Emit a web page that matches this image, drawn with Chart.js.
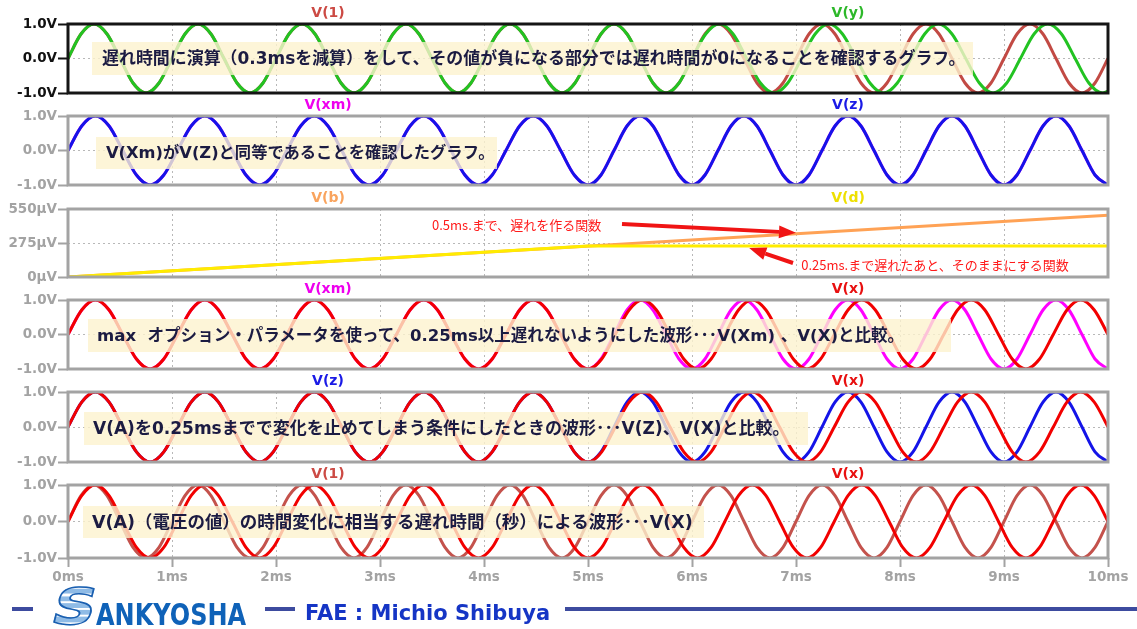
<!DOCTYPE html>
<html>
<head>
<meta charset="utf-8">
<script src="https://cdn.jsdelivr.net/npm/chart.js@4"></script>
<style>
  html, body { margin: 0; padding: 0; background: #fff; }
  #wrap { position: relative; width: 1137px; height: 629px; overflow: hidden; background: #fff; }
  #wrap canvas { position: absolute; left: 0; top: 0; }
  .note {
    position: absolute; box-sizing: border-box; padding-left: 10px;
    background: rgba(252, 242, 206, 0.8); color: #1b1b42;
    font-family: "DejaVu Sans", "Noto Sans CJK JP", sans-serif; font-weight: bold;
    font-size: 17px; white-space: pre; z-index: 5;
  }
  .bar { position: absolute; height: 4px; background: #3d4b9f; z-index: 5; }
  .bigS {
    position: absolute; left: 47px; top: 582px; font: bold 50px/50px "DejaVu Sans", sans-serif;
    background: repeating-linear-gradient(180deg, #8fbbe6 0px, #8fbbe6 5px, #ffffff 5px, #ffffff 7px);
    -webkit-background-clip: text; background-clip: text; color: transparent;
    -webkit-text-stroke: 1.5px #1a5fb0; z-index: 5;
    transform: skewX(-14deg) scaleX(1.2); transform-origin: left bottom;
  }
  .ank {
    position: absolute; left: 96px; top: 600px; font: bold 30px/30px "DejaVu Sans", sans-serif;
    color: #0f62b8; transform: scaleX(0.8); transform-origin: left top; z-index: 5;
  }
  .fae {
    position: absolute; left: 305px; top: 603px; font: bold 21px/21px "DejaVu Sans", sans-serif;
    color: #1535c5; z-index: 5; white-space: nowrap;
  }
</style>
</head>
<body>
<div id="wrap">
  <div class="note" data-w="864" style="left:92px;top:42px;width:881px;height:33px;line-height:33px;"><span>遅れ時間に演算（0.3msを減算）をして、その値が負になる部分では遅れ時間が0になることを確認するグラフ。</span></div>
  <div class="note" data-w="389" style="left:96px;top:137px;width:401px;height:32px;line-height:32px;"><span>V(Xm)がV(Z)と同等であることを確認したグラフ。</span></div>
  <div class="note" data-w="808" style="left:88px;top:319px;width:863px;height:33px;line-height:33px;padding-left:9px;"><span>max  オプション・パラメータを使って、0.25ms以上遅れないようにした波形･･･V(Xm) 、V(X)と比較。</span></div>
  <div class="note" data-w="697" style="left:84px;top:412px;width:724px;height:33px;line-height:33px;padding-left:9px;"><span>V(A)を0.25msまでで変化を止めてしまう条件にしたときの波形･･･V(Z)、V(X)と比較。</span></div>
  <div class="note" data-w="601" style="left:83px;top:506px;width:621px;height:32px;line-height:32px;padding-left:9px;"><span>V(A)（電圧の値）の時間変化に相当する遅れ時間（秒）による波形･･･V(X)</span></div>

  <div class="bar" style="left:12px;top:607px;width:21px;"></div>
  <span class="bigS">S</span>
  <span class="ank">ANKYOSHA</span>
  <div class="bar" style="left:265px;top:607px;width:30px;"></div>
  <span class="fae">FAE : Michio Shibuya</span>
  <div class="bar" style="left:565px;top:607px;width:572px;"></div>
</div>
<script>
// ---- waveform samples (time in ms, value in V unless noted) ----

// V(1): source sine
const v1Time = [
  0, 0.125, 0.25, 0.375, 0.5, 0.625, 0.75, 0.875,
  1, 1.125, 1.25, 1.375, 1.5, 1.625, 1.75, 1.875,
  2, 2.125, 2.25, 2.375, 2.5, 2.625, 2.75, 2.875,
  3, 3.125, 3.25, 3.375, 3.5, 3.625, 3.75, 3.875,
  4, 4.125, 4.25, 4.375, 4.5, 4.625, 4.75, 4.875,
  5, 5.125, 5.25, 5.375, 5.5, 5.625, 5.75, 5.875,
  6, 6.125, 6.25, 6.375, 6.5, 6.625, 6.75, 6.875,
  7, 7.125, 7.25, 7.375, 7.5, 7.625, 7.75, 7.875,
  8, 8.125, 8.25, 8.375, 8.5, 8.625, 8.75, 8.875,
  9, 9.125, 9.25, 9.375, 9.5, 9.625, 9.75, 9.875,
  10
];
const v1Val = [
  0, 0.71, 1, 0.71, 0, -0.71, -1, -0.71,
  0, 0.71, 1, 0.71, 0, -0.71, -1, -0.71,
  0, 0.71, 1, 0.71, 0, -0.71, -1, -0.71,
  0, 0.71, 1, 0.71, 0, -0.71, -1, -0.71,
  0, 0.71, 1, 0.71, 0, -0.71, -1, -0.71,
  0, 0.71, 1, 0.71, 0, -0.71, -1, -0.71,
  0, 0.71, 1, 0.71, 0, -0.71, -1, -0.71,
  0, 0.71, 1, 0.71, 0, -0.71, -1, -0.71,
  0, 0.71, 1, 0.71, 0, -0.71, -1, -0.71,
  0, 0.71, 1, 0.71, 0, -0.71, -1, -0.71,
  0
];

// V(x): delay keeps growing up to 0.5ms at 10ms
const vxTime = [
  0, 0.132, 0.263, 0.395, 0.526, 0.658, 0.789, 0.921,
  1.053, 1.184, 1.316, 1.447, 1.579, 1.711, 1.842, 1.974,
  2.105, 2.237, 2.368, 2.5, 2.632, 2.763, 2.895, 3.026,
  3.158, 3.289, 3.421, 3.553, 3.684, 3.816, 3.947, 4.079,
  4.211, 4.342, 4.474, 4.605, 4.737, 4.868, 5.0, 5.132,
  5.263, 5.395, 5.526, 5.658, 5.789, 5.921, 6.053, 6.184,
  6.316, 6.447, 6.579, 6.711, 6.842, 6.974, 7.105, 7.237,
  7.368, 7.5, 7.632, 7.763, 7.895, 8.026, 8.158, 8.289,
  8.421, 8.553, 8.684, 8.816, 8.947, 9.079, 9.211, 9.342,
  9.474, 9.605, 9.737, 9.868, 10
];
const vxVal = [
  0, 0.71, 1, 0.71, 0, -0.71, -1, -0.71,
  0, 0.71, 1, 0.71, 0, -0.71, -1, -0.71,
  0, 0.71, 1, 0.71, 0, -0.71, -1, -0.71,
  0, 0.71, 1, 0.71, 0, -0.71, -1, -0.71,
  0, 0.71, 1, 0.71, 0, -0.71, -1, -0.71,
  0, 0.71, 1, 0.71, 0, -0.71, -1, -0.71,
  0, 0.71, 1, 0.71, 0, -0.71, -1, -0.71,
  0, 0.71, 1, 0.71, 0, -0.71, -1, -0.71,
  0, 0.71, 1, 0.71, 0, -0.71, -1, -0.71,
  0, 0.71, 1, 0.71, 0
];

// V(xm) / V(z): delay stops growing at 0.25ms (5ms)
const vxmTime = [
  0, 0.132, 0.263, 0.395, 0.526, 0.658, 0.789, 0.921,
  1.053, 1.184, 1.316, 1.447, 1.579, 1.711, 1.842, 1.974,
  2.105, 2.237, 2.368, 2.5, 2.632, 2.763, 2.895, 3.026,
  3.158, 3.289, 3.421, 3.553, 3.684, 3.816, 3.947, 4.079,
  4.211, 4.342, 4.474, 4.605, 4.737, 4.868, 5.0, 5.125,
  5.25, 5.375, 5.5, 5.625, 5.75, 5.875, 6.0, 6.125,
  6.25, 6.375, 6.5, 6.625, 6.75, 6.875, 7.0, 7.125,
  7.25, 7.375, 7.5, 7.625, 7.75, 7.875, 8.0, 8.125,
  8.25, 8.375, 8.5, 8.625, 8.75, 8.875, 9.0, 9.125,
  9.25, 9.375, 9.5, 9.625, 9.75, 9.875, 10
];
const vxmVal = [
  0, 0.71, 1, 0.71, 0, -0.71, -1, -0.71,
  0, 0.71, 1, 0.71, 0, -0.71, -1, -0.71,
  0, 0.71, 1, 0.71, 0, -0.71, -1, -0.71,
  0, 0.71, 1, 0.71, 0, -0.71, -1, -0.71,
  0, 0.71, 1, 0.71, 0, -0.71, -1, -0.71,
  0, 0.71, 1, 0.71, 0, -0.71, -1, -0.71,
  0, 0.71, 1, 0.71, 0, -0.71, -1, -0.71,
  0, 0.71, 1, 0.71, 0, -0.71, -1, -0.71,
  0, 0.71, 1, 0.71, 0, -0.71, -1, -0.71,
  0, 0.71, 1, 0.71, 0, -0.71, -1
];
const vzTime = vxmTime;
const vzVal = vxmVal;

// V(y): delay minus 0.3ms, clamped at zero (follows V(1) until 6ms)
const vyTime = [
  0, 0.125, 0.25, 0.375, 0.5, 0.625, 0.75, 0.875,
  1, 1.125, 1.25, 1.375, 1.5, 1.625, 1.75, 1.875,
  2, 2.125, 2.25, 2.375, 2.5, 2.625, 2.75, 2.875,
  3, 3.125, 3.25, 3.375, 3.5, 3.625, 3.75, 3.875,
  4, 4.125, 4.25, 4.375, 4.5, 4.625, 4.75, 4.875,
  5, 5.125, 5.25, 5.375, 5.5, 5.625, 5.75, 5.875,
  6, 6.132, 6.263, 6.395, 6.526, 6.658, 6.789, 6.921,
  7.053, 7.184, 7.316, 7.447, 7.579, 7.711, 7.842, 7.974,
  8.105, 8.237, 8.368, 8.5, 8.632, 8.763, 8.895, 9.026,
  9.158, 9.289, 9.421, 9.553, 9.684, 9.816, 9.947, 10
];
const vyVal = [
  0, 0.71, 1, 0.71, 0, -0.71, -1, -0.71,
  0, 0.71, 1, 0.71, 0, -0.71, -1, -0.71,
  0, 0.71, 1, 0.71, 0, -0.71, -1, -0.71,
  0, 0.71, 1, 0.71, 0, -0.71, -1, -0.71,
  0, 0.71, 1, 0.71, 0, -0.71, -1, -0.71,
  0, 0.71, 1, 0.71, 0, -0.71, -1, -0.71,
  0, 0.71, 1, 0.71, 0, -0.71, -1, -0.71,
  0, 0.71, 1, 0.71, 0, -0.71, -1, -0.71,
  0, 0.71, 1, 0.71, 0, -0.71, -1, -0.71,
  0, 0.71, 1, 0.71, 0, -0.71, -1, -0.95
];

// V(b) and V(d): delay control voltages (µV)
const vbTime = [0, 10];
const vbVal = [0, 500];
const vdTime = [0, 5, 10];
const vdVal = [0, 250, 250];

// axis ticks
const timeTicks = [0, 1, 2, 3, 4, 5, 6, 7, 8, 9, 10];
const voltTicks = [-1, 0, 1];
const microTicks = [0, 275, 550];

// ---- layout / drawing ----
const W = 1137, H = 629, PLOT_RIGHT = 1108, AXIS_W = 68;
const GREY = '#a3a3a3';
const GRID = '#b8b8b8';
const TICK_FONT = { family: 'DejaVu Sans', weight: 'bold', size: 13.5 };
const wrap = document.getElementById('wrap');

function arrow(ctx, x0, y0, x1, y1) {
  const ang = Math.atan2(y1 - y0, x1 - x0);
  const len = 17, half = 6.5;
  const bx = x1 - len * Math.cos(ang), by = y1 - len * Math.sin(ang);
  ctx.strokeStyle = '#f01414'; ctx.fillStyle = '#f01414'; ctx.lineWidth = 4;
  ctx.beginPath(); ctx.moveTo(x0, y0); ctx.lineTo(bx, by); ctx.stroke();
  ctx.beginPath();
  ctx.moveTo(x1, y1);
  ctx.lineTo(bx + half * Math.sin(ang), by - half * Math.cos(ang));
  ctx.lineTo(bx - half * Math.sin(ang), by + half * Math.cos(ang));
  ctx.closePath(); ctx.fill();
}

const panes = [
  { top: 24, bottom: 93, ink: '#111111', frame: '#151515', ticks: voltTicks, unit: 'V',
    traces: [ { t: vyTime, v: vyVal, color: '#22c322' }, { t: v1Time, v: v1Val, color: '#c24a44' } ],
    labels: [ ['V(1)', '#cc4a44'], ['V(y)', '#2db82a'] ] },
  { top: 116, bottom: 185, ink: GREY, frame: GREY, ticks: voltTicks, unit: 'V',
    traces: [ { t: vzTime, v: vzVal, color: '#1414e8' }, { t: vxmTime, v: vxmVal, color: '#ff00ff' } ],
    labels: [ ['V(xm)', '#ee00ee'], ['V(z)', '#1a1ae6'] ] },
  { top: 209, bottom: 277, ink: GREY, frame: GREY, ticks: microTicks, unit: 'µV',
    traces: [ { t: vdTime, v: vdVal, color: '#ffec00', straight: true },
              { t: vbTime, v: vbVal, color: '#ffa255', straight: true } ],
    labels: [ ['V(b)', '#f9a45e'], ['V(d)', '#eee000'] ],
    extra(chart) {
      const { ctx, scales: { x, y } } = chart;
      ctx.save();
      ctx.fillStyle = '#ff1a1a';
      ctx.font = '13px "Noto Sans CJK JP"';
      ctx.textAlign = 'left'; ctx.textBaseline = 'middle';
      ctx.fillText('0.5ms.まで、遅れを作る関数', x.getPixelForValue(3.5), 225);
      ctx.fillText('0.25ms.まで遅れたあと、そのままにする関数', x.getPixelForValue(7.05), 265);
      arrow(ctx, 622, 224, x.getPixelForValue(7.0), y.getPixelForValue(vbVal[1] * 7 / 10) - 1);
      arrow(ctx, 793, 263, x.getPixelForValue(6.55), y.getPixelForValue(vdVal[2]) + 2);
      ctx.restore();
    } },
  { top: 300, bottom: 369, ink: GREY, frame: GREY, ticks: voltTicks, unit: 'V',
    traces: [ { t: vxTime, v: vxVal, color: '#f20000' }, { t: vxmTime, v: vxmVal, color: '#ff00ff' } ],
    labels: [ ['V(xm)', '#ee00ee'], ['V(x)', '#e81010'] ] },
  { top: 392, bottom: 462, ink: GREY, frame: GREY, ticks: voltTicks, unit: 'V',
    traces: [ { t: vxTime, v: vxVal, color: '#f20000' }, { t: vzTime, v: vzVal, color: '#1414e8' } ],
    labels: [ ['V(z)', '#1a1ae6'], ['V(x)', '#e81010'] ] },
  { top: 485, bottom: 558, ink: GREY, frame: GREY, ticks: voltTicks, unit: 'V',
    traces: [ { t: vxTime, v: vxVal, color: '#f20000' }, { t: v1Time, v: v1Val, color: '#c4524c' } ],
    labels: [ ['V(1)', '#cc4a44'], ['V(x)', '#e81010'] ] }
];

function makePane(spec, isLast) {
  const cv = document.createElement('canvas');
  cv.width = W; cv.height = H;
  cv.style.width = W + 'px'; cv.style.height = H + 'px';
  wrap.appendChild(cv);
  const xH = isLast ? 32 : 0;
  const lo = spec.ticks[0], hi = spec.ticks[spec.ticks.length - 1];
  const decor = {
    id: 'decor',
    afterDatasetsDraw(chart) {
      const { ctx, chartArea: a, scales: { x } } = chart;
      if (spec.extra) spec.extra(chart);
      ctx.save();
      ctx.strokeStyle = spec.frame; ctx.lineWidth = 3;
      ctx.strokeRect(a.left, a.top, a.right - a.left, a.bottom - a.top);
      ctx.font = 'bold 14px "DejaVu Sans"';
      ctx.textAlign = 'center'; ctx.textBaseline = 'middle';
      spec.labels.forEach(([txt, col], j) => {
        ctx.fillStyle = col;
        ctx.fillText(txt, x.getPixelForValue(j ? 7.5 : 2.5), a.top - 11);
      });
      ctx.restore();
    }
  };
  return new Chart(cv, {
    type: 'line',
    data: {
      datasets: spec.traces.map(tr => ({
        data: tr.t.map((t, i) => ({ x: t, y: tr.v[i] })),
        borderColor: tr.color, borderWidth: 3, pointRadius: 0, fill: false,
        cubicInterpolationMode: tr.straight ? 'default' : 'monotone',
        tension: 0
      }))
    },
    options: {
      responsive: false, animation: false, devicePixelRatio: 1, events: [],
      layout: { padding: { left: 0, right: W - PLOT_RIGHT, top: spec.top, bottom: H - spec.bottom - xH } },
      plugins: { legend: { display: false }, tooltip: { enabled: false } },
      scales: {
        x: {
          type: 'linear', min: timeTicks[0], max: timeTicks[timeTicks.length - 1],
          afterFit: s => { s.height = xH; },
          afterBuildTicks: s => { s.ticks = timeTicks.map(v => ({ value: v })); },
          ticks: { display: isLast, padding: 2, color: GREY, font: TICK_FONT, maxRotation: 0, autoSkip: false,
                   callback: v => v + 'ms' },
          grid: { color: GRID, lineWidth: 1, drawTicks: isLast, tickLength: 9, tickWidth: 2, tickColor: GREY },
          border: { display: false, dash: [2, 3] }
        },
        y: {
          type: 'linear', min: lo, max: hi,
          afterFit: s => { s.width = AXIS_W; },
          afterBuildTicks: s => { s.ticks = spec.ticks.map(v => ({ value: v })); },
          ticks: { padding: 1, color: spec.ink, font: TICK_FONT, autoSkip: false,
                   callback: v => (spec.unit === 'V' ? v.toFixed(1) : v) + spec.unit },
          grid: { color: GRID, lineWidth: 1, drawTicks: true, tickLength: 10, tickWidth: 2, tickColor: spec.ink },
          border: { display: false, dash: [2, 3] }
        }
      }
    },
    plugins: [decor]
  });
}

panes.forEach((p, i) => makePane(p, i === panes.length - 1));

// fit each caption's text run to its measured width
function fitNotes() {
  document.querySelectorAll('.note').forEach(n => {
    const span = n.firstElementChild;
    n.style.fontSize = '17px';
    const w = span.getBoundingClientRect().width;
    const target = +n.dataset.w;
    if (w > 0) n.style.fontSize = (17 * target / w).toFixed(2) + 'px';
  });
}
fitNotes();
if (document.fonts && document.fonts.ready) document.fonts.ready.then(fitNotes);
</script>
</body>
</html>
